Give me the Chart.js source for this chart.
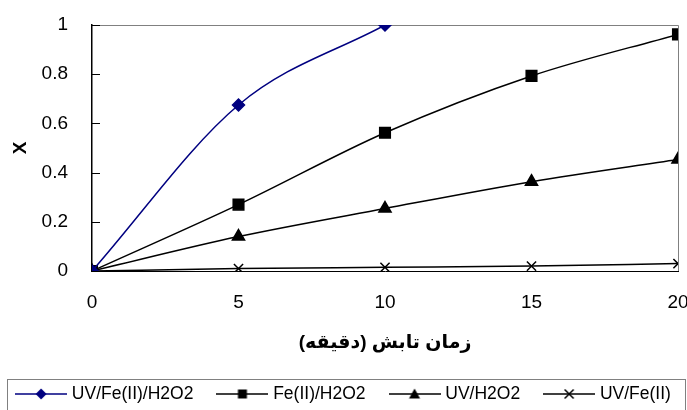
<!DOCTYPE html>
<html><head><meta charset="utf-8">
<script src="https://cdn.jsdelivr.net/npm/chart.js@4"></script>
<style>html,body{margin:0;padding:0;background:#fff;overflow:hidden}</style>
</head><body>
<canvas id="c" width="687" height="410" style="display:block;width:687px;height:410px"></canvas>
<script>
// ---- data ----
const timeMin = [0, 5, 10, 15, 20];
const seriesNames = ['UV/Fe(II)/H2O2', 'Fe(II)/H2O2', 'UV/H2O2', 'UV/Fe(II)'];
const uvFeH2O2 = [0, 0.675, 1.0];
const feH2O2 = [0, 0.27, 0.562, 0.793, 0.962];
const uvH2O2 = [0, 0.14, 0.254, 0.363, 0.453];
const uvFe = [0, 0.01, 0.015, 0.02, 0.03];
const xTickLabels = ['0', '5', '10', '15', '20'];
const yTickLabels = ['0', '0.2', '0.4', '0.6', '0.8', '1'];
const xTitle = '\u200Fزمان تابش (دقیقه)\u200F';
const yTitle = 'X';

const FONT = "'Liberation Sans', Arial, 'DejaVu Sans', sans-serif";
const NAVY = '#000080';
const BLACK = '#000000';

function pts(xs, ys) { return ys.map((y, i) => ({ x: xs[i], y: y })); }

function makeIcon(color, kind) {
  const c = document.createElement('canvas');
  c.width = 52; c.height = 16;
  const g = c.getContext('2d');
  g.strokeStyle = color; g.fillStyle = color; g.lineWidth = 1.5;
  g.beginPath(); g.moveTo(0, 8); g.lineTo(52, 8); g.stroke();
  const cx = 26, cy = 8;
  g.beginPath();
  if (kind === 'diamond') {
    g.moveTo(cx, cy - 5.5); g.lineTo(cx + 5.5, cy); g.lineTo(cx, cy + 5.5); g.lineTo(cx - 5.5, cy); g.closePath(); g.fill();
  } else if (kind === 'square') {
    g.fillRect(cx - 4.5, cy - 4.5, 9, 9);
  } else if (kind === 'triangle') {
    g.moveTo(cx, cy - 5.5); g.lineTo(cx + 5.5, cy + 4.5); g.lineTo(cx - 5.5, cy + 4.5); g.closePath(); g.fill();
  } else {
    g.moveTo(cx - 4.5, cy - 4.5); g.lineTo(cx + 4.5, cy + 4.5); g.moveTo(cx + 4.5, cy - 4.5); g.lineTo(cx - 4.5, cy + 4.5); g.stroke();
  }
  return c;
}
const icons = [makeIcon(NAVY, 'diamond'), makeIcon(BLACK, 'square'), makeIcon(BLACK, 'triangle'), makeIcon(BLACK, 'cross')];

const PAD_L = -10, PAD_R = -13;
const PLOT_LEFT = 92, PLOT_RIGHT = 678, PLOT_TOP = 25, PLOT_BOTTOM = 271;
const LEG_FONT = 17.5, LEG_PAD = 27;
const LEGEND_TOP = 394 - LEG_PAD - LEG_FONT / 2;
const LEGEND_H = 410 - LEGEND_TOP;

const framePlugin = {
  id: 'frame',
  beforeDatasetsDraw(chart) {
    const a = chart.chartArea, ctx = chart.ctx;
    ctx.save();
    ctx.strokeStyle = '#808080'; ctx.lineWidth = 1;
    ctx.beginPath();
    ctx.moveTo(a.left, a.top + 0.5); ctx.lineTo(a.right + 0.5, a.top + 0.5); ctx.lineTo(a.right + 0.5, a.bottom);
    ctx.stroke();
    const ys = chart.scales.y;
    ctx.strokeStyle = '#000'; ctx.lineWidth = 1;
    ys.ticks.forEach((t) => {
      const py = Math.round(ys.getPixelForValue(t.value)) + 0.5;
      ctx.beginPath(); ctx.moveTo(a.left, py); ctx.lineTo(a.left + 8, py); ctx.stroke();
    });
    ctx.restore();
  },
  afterDraw(chart) {
    const ctx = chart.ctx;
    ctx.save();
    ctx.strokeStyle = '#808080'; ctx.lineWidth = 1;
    ctx.strokeRect(7.5, 379.5, 678, 40);
    ctx.restore();
  }
};

new Chart(document.getElementById('c'), {
  type: 'line',
  data: {
    datasets: [
      { label: seriesNames[0], data: pts(timeMin, uvFeH2O2), borderColor: NAVY, backgroundColor: NAVY,
        pointStyle: 'rectRot', pointRadius: 6, borderWidth: 1.5, cubicInterpolationMode: 'monotone' },
      { label: seriesNames[1], data: pts(timeMin, feH2O2), borderColor: BLACK, backgroundColor: BLACK,
        pointStyle: 'rect', pointRadius: 7.5, borderWidth: 1.5, cubicInterpolationMode: 'monotone' },
      { label: seriesNames[2], data: pts(timeMin, uvH2O2), borderColor: BLACK, backgroundColor: BLACK,
        pointStyle: 'triangle', pointRadius: 7, borderWidth: 1.5, cubicInterpolationMode: 'monotone' },
      { label: seriesNames[3], data: pts(timeMin, uvFe), borderColor: BLACK, backgroundColor: BLACK,
        pointStyle: 'crossRot', pointRadius: 6.5, pointBorderWidth: 1.5, borderWidth: 1.5, cubicInterpolationMode: 'monotone' }
    ]
  },
  options: {
    responsive: false,
    animation: false,
    devicePixelRatio: 1,
    layout: { padding: { top: PLOT_TOP, left: PAD_L, right: PAD_R, bottom: 0 } },
    plugins: {
      tooltip: { enabled: false },
      legend: {
        position: 'bottom',
        maxHeight: LEGEND_H,
        labels: {
          usePointStyle: true,
          pointStyleWidth: 44,
          padding: LEG_PAD,
          color: '#000',
          font: { family: FONT, size: LEG_FONT },
          generateLabels: (chart) => chart.data.datasets.map((ds, i) => ({
            text: ds.label, pointStyle: icons[i], fillStyle: ds.borderColor, strokeStyle: ds.borderColor,
            lineWidth: 0, hidden: false, datasetIndex: i, fontColor: '#000'
          }))
        }
      }
    },
    scales: {
      x: {
        type: 'linear', min: 0, max: 20,
        grid: { display: false, drawTicks: false },
        border: { display: true, color: '#000', width: 1 },
        ticks: { stepSize: 5, color: '#000', padding: 20, maxRotation: 0,
          font: { family: FONT, size: 19 },
          callback: (v, i) => xTickLabels[i] },
        title: { display: true, text: xTitle, color: '#000',
          font: { family: FONT, size: 19, weight: 'bold' }, padding: { top: 0, bottom: LEGEND_TOP - 343 - 11.4 } },
        afterFit: (s) => { s.height = LEGEND_TOP - PLOT_BOTTOM; s.paddingLeft = 0; s.paddingRight = 0; }
      },
      y: {
        type: 'linear', min: 0, max: 1,
        grid: { display: false, drawTicks: false },
        border: { display: true, color: '#000', width: 1.5 },
        ticks: { stepSize: 0.2, color: '#000', padding: 24,
          font: { family: FONT, size: 19 },
          callback: (v, i) => yTickLabels[i] },
        title: { display: true, text: yTitle, color: '#000',
          font: { family: FONT, size: 19, weight: 'bold' }, padding: { top: 9 - PAD_L, bottom: 0 } },
        afterFit: (s) => { s.width = PLOT_LEFT - PAD_L; s.paddingTop = 0; s.paddingBottom = 0; }
      },
      y2: {
        type: 'linear', position: 'right', display: true,
        grid: { display: false, drawTicks: false },
        border: { display: false },
        ticks: { display: false },
        afterFit: (s) => { s.width = 687 - PAD_R - PLOT_RIGHT; }
      }
    }
  },
  plugins: [framePlugin]
});
</script>
</body></html>
